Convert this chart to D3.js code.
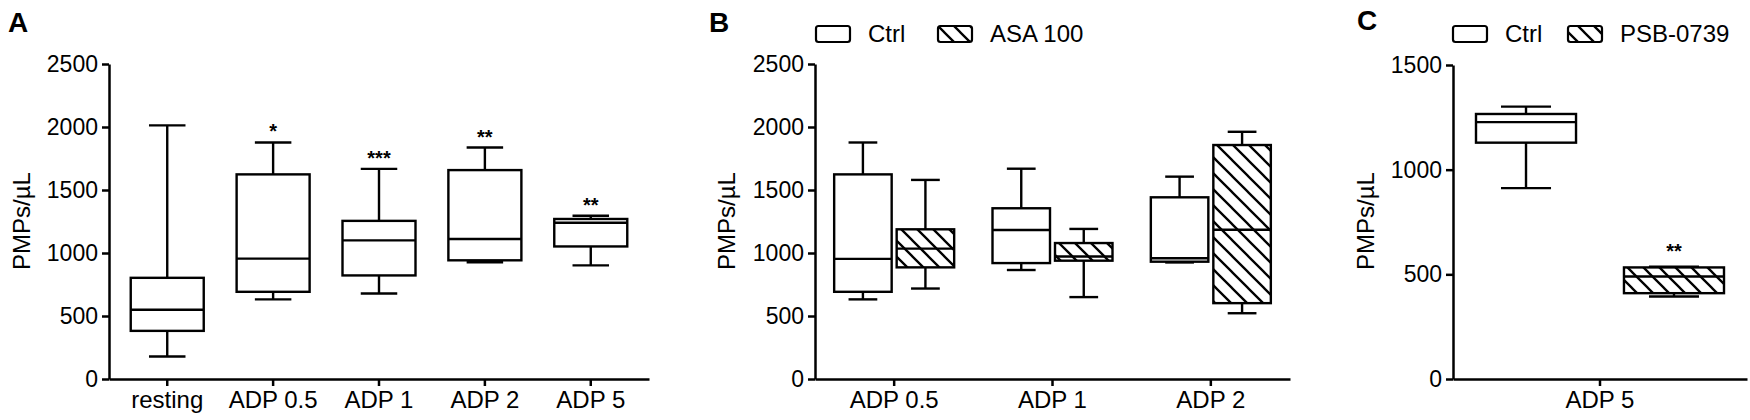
<!DOCTYPE html>
<html>
<head>
<meta charset="utf-8">
<script src="https://cdn.jsdelivr.net/npm/d3@7"></script>
<style>
  body { margin: 0; background: #fff; }
  svg { display: block; font-family: "Liberation Sans", Arial, sans-serif; }
</style>
</head>
<body>
<svg id="chart" width="1750" height="420"></svg>
<script>
// Panel A: box stats per category
const catsA = ["resting", "ADP 0.5", "ADP 1", "ADP 2", "ADP 5"];
const aMin = [178, 632, 679, 926, 902];
const aQ1 = [382, 692, 822, 942, 1052];
const aMed = [550, 955, 1100, 1111, 1240];
const aQ3 = [803, 1624, 1255, 1658, 1270];
const aMax = [2013, 1877, 1668, 1837, 1296];
const aStars = ["", "*", "***", "**", "**"];

// Panel B
const catsB = ["ADP 0.5", "ADP 1", "ADP 2"];
const seriesB = ["Ctrl", "ASA 100"];
const bCtrlMin = [632, 865, 925];
const bCtrlQ1 = [692, 920, 931];
const bCtrlMed = [953, 1183, 958];
const bCtrlQ3 = [1624, 1355, 1442];
const bCtrlMax = [1877, 1669, 1606];
const bAsaMin = [718, 650, 522];
const bAsaQ1 = [886, 939, 602];
const bAsaMed = [1035, 972, 1184];
const bAsaQ3 = [1188, 1079, 1857];
const bAsaMax = [1580, 1191, 1962];

// Panel C
const catsC = ["ADP 5"];
const seriesC = ["Ctrl", "PSB-0739"];
const cCtrlStats = [912, 1129, 1227, 1266, 1301];
const cPsbStats = [394, 410, 490, 533, 537];
const cStars = ["", "**"];

const ticksA = [0, 500, 1000, 1500, 2000, 2500];
const ticksC = [0, 500, 1000, 1500];

const svg = d3.select("#chart");

// hatch pattern
svg.append("defs").append("pattern")
	.attr("id", "hatch")
	.attr("patternUnits", "userSpaceOnUse")
	.attr("width", 16)
	.attr("height", 16)
	.append("path")
	.attr("d", "M0,0 L16,16 M-4,12 L4,20 M12,-4 L20,4")
	.attr("stroke", "#000")
	.attr("stroke-width", 2.3);

const zip = (mins, q1s, meds, q3s, maxs) =>
	mins.map((m, i) => ({ min: m, q1: q1s[i], med: meds[i], q3: q3s[i], max: maxs[i] }));

function drawBox(g, cx, w, d, y, hatched) {
	const box = g.append("g")
		.attr("stroke", "#000")
		.attr("stroke-width", 2.4)
		.attr("fill", "none");
	// whiskers
	box.append("line").attr("x1", cx).attr("x2", cx).attr("y1", y(d.q3)).attr("y2", y(d.max));
	box.append("line").attr("x1", cx).attr("x2", cx).attr("y1", y(d.q1)).attr("y2", y(d.min));
	box.append("line").attr("x1", cx - w / 4).attr("x2", cx + w / 4).attr("y1", y(d.max)).attr("y2", y(d.max));
	box.append("line").attr("x1", cx - w / 4).attr("x2", cx + w / 4).attr("y1", y(d.min)).attr("y2", y(d.min));
	box.append("rect")
		.attr("x", cx - w / 2)
		.attr("y", y(d.q3))
		.attr("width", w)
		.attr("height", y(d.q1) - y(d.q3))
		.attr("fill", hatched ? "url(#hatch)" : "#fff");
	box.append("line").attr("x1", cx - w / 2).attr("x2", cx + w / 2).attr("y1", y(d.med)).attr("y2", y(d.med));
}

function drawAxes(g, x, y, ticks, labelX) {
	const yAxis = g.append("g")
		.attr("transform", `translate(${x.range()[0]},0)`)
		.call(d3.axisLeft(y).tickValues(ticks).tickFormat(d3.format("d"))
			.tickSize(7).tickPadding(4).tickSizeOuter(0));
	const xAxis = g.append("g")
		.attr("transform", `translate(0,${y(0)})`)
		.call(d3.axisBottom(x).tickSize(7).tickPadding(5).tickSizeOuter(0));

	[yAxis, xAxis].forEach((a) => {
		a.selectAll("path, line").attr("stroke", "#000").attr("stroke-width", 2.5);
		a.selectAll("text").attr("fill", "#000").style("font-family", "Liberation Sans, Arial, sans-serif");
	});
	yAxis.selectAll("text").style("font-size", "23px");
	xAxis.selectAll("text").style("font-size", "24px");

	g.append("text")
		.attr("transform", `translate(${labelX},221) rotate(-90)`)
		.attr("text-anchor", "middle")
		.style("font-size", "24px")
		.text("PMPs/\u00b5L");
}

function drawLegend(g, x0, y0, names, gap) {
	let xx = x0;
	names.forEach((name, i) => {
		g.append("rect")
			.attr("x", xx)
			.attr("y", y0)
			.attr("width", 34)
			.attr("height", 16)
			.attr("rx", 2.5)
			.attr("fill", i === 1 ? "url(#hatch)" : "#fff")
			.attr("stroke", "#000")
			.attr("stroke-width", 2.2);
		g.append("text")
			.attr("x", xx + 52)
			.attr("y", y0 + 16)
			.style("font-size", "24px")
			.text(name);
		xx += gap;
	});
}

function panelLetter(x, yy, t) {
	svg.append("text")
		.attr("x", x)
		.attr("y", yy)
		.style("font-size", "28px")
		.style("font-weight", "bold")
		.text(t);
}

// ---------- Panel A ----------
{
	const g = svg.append("g");
	const x = d3.scaleBand().domain(catsA).range([109, 649]).paddingOuter(0.05);
	const y = d3.scaleLinear().domain([0, 2500]).range([379, 64]);
	drawAxes(g, x, y, ticksA, 30);
	const stats = zip(aMin, aQ1, aMed, aQ3, aMax);
	catsA.forEach((c, i) => {
		const cx = x(c) + x.bandwidth() / 2;
		drawBox(g, cx, 73, stats[i], y, false);
		if (aStars[i]) {
			g.append("text")
				.attr("x", cx)
				.attr("y", y(stats[i].max) - 4)
				.attr("text-anchor", "middle")
				.style("font-size", "20px")
				.style("font-weight", "bold")
				.text(aStars[i]);
		}
	});
	panelLetter(8, 32, "A");
}

// ---------- Panel B ----------
{
	const g = svg.append("g");
	const x = d3.scaleBand().domain(catsB).range([815, 1290]);
	const xs = d3.scaleBand().domain(seriesB).range([-60, 60]).paddingInner(0.08);
	const y = d3.scaleLinear().domain([0, 2500]).range([379, 64]);
	drawAxes(g, x, y, ticksA, 735);
	const ctrl = zip(bCtrlMin, bCtrlQ1, bCtrlMed, bCtrlQ3, bCtrlMax);
	const asa = zip(bAsaMin, bAsaQ1, bAsaMed, bAsaQ3, bAsaMax);
	catsB.forEach((c, i) => {
		const center = x(c) + x.bandwidth() / 2;
		drawBox(g, center + xs(seriesB[0]) + xs.bandwidth() / 2, xs.bandwidth(), ctrl[i], y, false);
		drawBox(g, center + xs(seriesB[1]) + xs.bandwidth() / 2, xs.bandwidth(), asa[i], y, true);
	});
	drawLegend(g, 816, 26, seriesB, 122);
	panelLetter(709, 32, "B");
}

// ---------- Panel C ----------
{
	const g = svg.append("g");
	const x = d3.scaleBand().domain(catsC).range([1453, 1747]);
	const xs = d3.scaleBand().domain(seriesC).range([-124, 124]).paddingInner(0.324);
	const y = d3.scaleLinear().domain([0, 1500]).range([379, 65]);
	drawAxes(g, x, y, ticksC, 1374);
	const stats = [cCtrlStats, cPsbStats].map(([min, q1, med, q3, max]) => ({ min, q1, med, q3, max }));
	const center = x(catsC[0]) + x.bandwidth() / 2;
	seriesC.forEach((s, i) => {
		const cx = center + xs(s) + xs.bandwidth() / 2;
		drawBox(g, cx, xs.bandwidth(), stats[i], y, i === 1);
		if (cStars[i]) {
			g.append("text")
				.attr("x", cx)
				.attr("y", y(stats[i].max) - 9)
				.attr("text-anchor", "middle")
				.style("font-size", "20px")
				.style("font-weight", "bold")
				.text(cStars[i]);
		}
	});
	drawLegend(g, 1453, 26, seriesC, 115);
	panelLetter(1357, 30, "C");
}
</script>
</body>
</html>
